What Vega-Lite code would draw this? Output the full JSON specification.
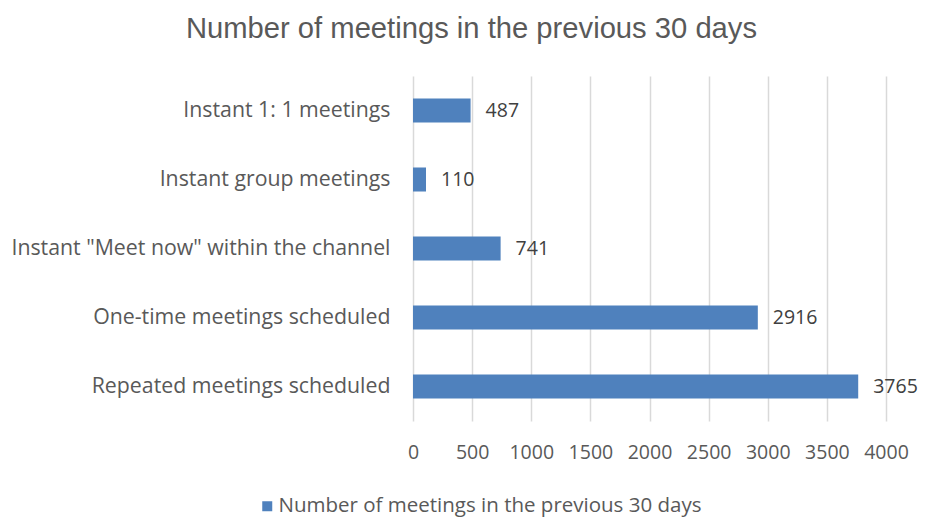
{
  "$schema": "https://vega.github.io/schema/vega-lite/v6.json",
  "width": 473,
  "height": 345,
  "autosize": {"type": "none"},
  "padding": {"left": 413, "top": 76, "right": 43, "bottom": 96},
  "background": "white",
  "title": {
    "text": "Number of meetings in the previous 30 days",
    "font": "Liberation Sans",
    "fontSize": 29.2,
    "fontWeight": "normal",
    "color": "#595959",
    "anchor": "middle",
    "dx": -178,
    "offset": 32
  },
  "data": {
    "values": [
      {"category": "Instant 1: 1 meetings", "value": 487, "series": "Number of meetings in the previous 30 days"},
      {"category": "Instant group meetings", "value": 110, "series": "Number of meetings in the previous 30 days"},
      {"category": "Instant \"Meet now\" within the channel", "value": 741, "series": "Number of meetings in the previous 30 days"},
      {"category": "One-time meetings scheduled", "value": 2916, "series": "Number of meetings in the previous 30 days"},
      {"category": "Repeated meetings scheduled", "value": 3765, "series": "Number of meetings in the previous 30 days"}
    ]
  },
  "encoding": {
    "y": {
      "field": "category",
      "type": "nominal",
      "sort": null,
      "title": null,
      "scale": {"paddingInner": 0.652, "paddingOuter": 0.326},
      "axis": {
        "domain": false,
        "ticks": false,
        "grid": false,
        "labelFont": "Open Sans",
        "labelFontSize": 21.3,
        "labelColor": "#595959",
        "labelPadding": 23,
        "labelLimit": 500
      }
    },
    "x": {
      "field": "value",
      "type": "quantitative",
      "title": null,
      "scale": {"domain": [0, 4000], "nice": false},
      "axis": {
        "values": [0, 500, 1000, 1500, 2000, 2500, 3000, 3500, 4000],
        "format": "d",
        "domain": false,
        "ticks": false,
        "grid": true,
        "gridColor": "#d9d9d9",
        "gridWidth": 1.5,
        "labelFont": "Open Sans",
        "labelFontSize": 19.5,
        "labelColor": "#595959",
        "labelPadding": 22,
        "labelFlush": false,
        "labelOverlap": false
      }
    }
  },
  "layer": [
    {
      "mark": {"type": "bar", "stroke": null},
      "encoding": {
        "color": {
          "field": "series",
          "type": "nominal",
          "scale": {"range": ["#4f81bd"]},
          "legend": {
            "title": null,
            "orient": "none",
            "legendX": -156,
            "legendY": 420,
            "direction": "horizontal",
            "symbolType": "square",
            "symbolSize": 100,
            "symbolStrokeWidth": 0,
            "labelFont": "Open Sans",
            "labelFontSize": 20.5,
            "labelColor": "#595959",
            "labelOffset": 1,
            "labelLimit": 600
          }
        }
      }
    },
    {
      "mark": {
        "type": "text",
        "align": "left",
        "baseline": "middle",
        "dx": 15,
        "font": "Open Sans",
        "fontSize": 19.5,
        "color": "#404040"
      },
      "encoding": {
        "text": {"field": "value", "type": "quantitative", "format": "d"}
      }
    }
  ],
  "config": {"view": {"stroke": null}}
}
